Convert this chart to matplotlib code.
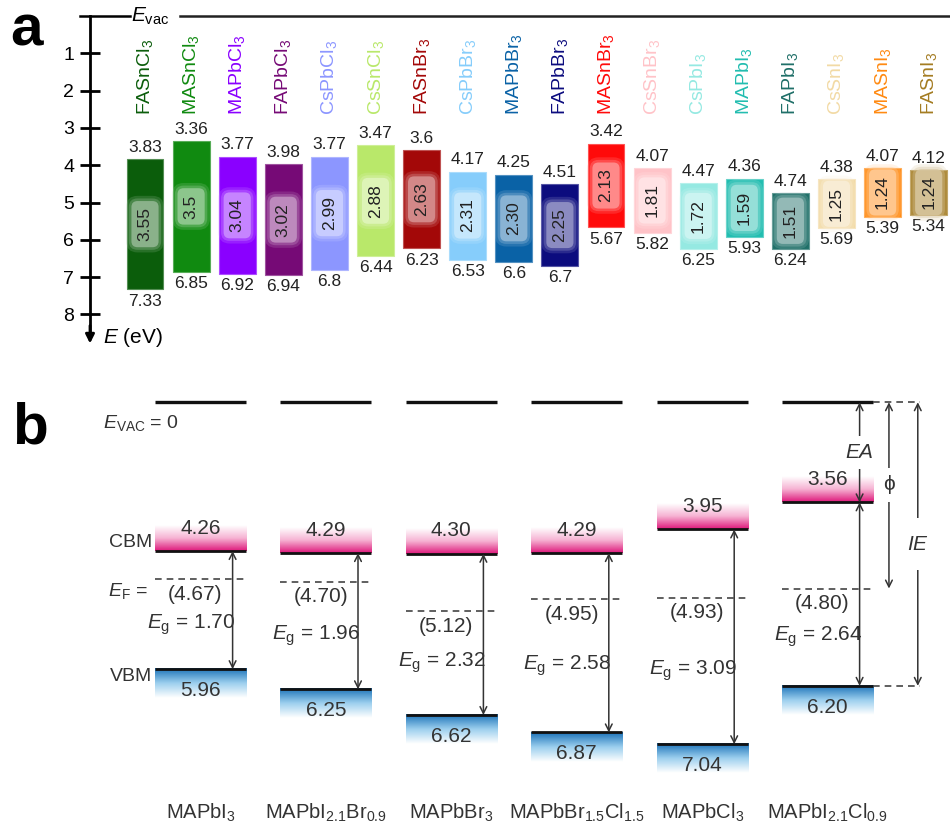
import numpy as np
import matplotlib.pyplot as plt
from matplotlib.colors import LinearSegmentedColormap, to_rgb

plt.rcParams['font.family'] = ['Liberation Sans', 'DejaVu Sans']
plt.rcParams['mathtext.fontset'] = 'custom'
plt.rcParams['mathtext.rm'] = 'Liberation Sans'
plt.rcParams['mathtext.it'] = 'Liberation Sans:italic'
plt.rcParams['mathtext.bf'] = 'Liberation Sans:bold'

# ---- panel a data ----
names_a = ['FASnCl$_3$', 'MASnCl$_3$', 'MAPbCl$_3$', 'FAPbCl$_3$', 'CsPbCl$_3$',
           'CsSnCl$_3$', 'FASnBr$_3$', 'CsPbBr$_3$', 'MAPbBr$_3$', 'FAPbBr$_3$',
           'MASnBr$_3$', 'CsSnBr$_3$', 'CsPbI$_3$', 'MAPbI$_3$', 'FAPbI$_3$',
           'CsSnI$_3$', 'MASnI$_3$', 'FASnI$_3$']
cbm_a = [3.83, 3.36, 3.77, 3.98, 3.77, 3.47, 3.6, 4.17, 4.25, 4.51, 3.42, 4.07,
         4.47, 4.36, 4.74, 4.38, 4.07, 4.12]
vbm_a = [7.33, 6.85, 6.92, 6.94, 6.8, 6.44, 6.23, 6.53, 6.6, 6.7, 5.67, 5.82,
         6.25, 5.93, 6.24, 5.69, 5.39, 5.34]
gap_a = ['3.55', '3.5', '3.04', '3.02', '2.99', '2.88', '2.63', '2.31', '2.30',
         '2.25', '2.13', '1.81', '1.72', '1.59', '1.51', '1.25', '1.24', '1.24']
colors_a = ['#0b5d0b', '#108a10', '#8a00ff', '#760a76', '#8c96ff', '#b9e86a',
            '#a30808', '#86cdfb', '#0a62a6', '#0c0c7e', '#ff0a0a', '#ffc3c8',
            '#95e9e2', '#22bdb0', '#1f6f68', '#f2daa5', '#ff8a12', '#a47c22']
yticks_a = [1, 2, 3, 4, 5, 6, 7, 8]

# ---- panel b data ----
names_b = ['MAPbI$_3$', 'MAPbI$_{2.1}$Br$_{0.9}$', 'MAPbBr$_3$',
           'MAPbBr$_{1.5}$Cl$_{1.5}$', 'MAPbCl$_3$', 'MAPbI$_{2.1}$Cl$_{0.9}$']
cbm_b = [4.26, 4.29, 4.30, 4.29, 3.95, 3.56]
vbm_b = [5.96, 6.25, 6.62, 6.87, 7.04, 6.20]
ef_b = [4.67, 4.70, 5.12, 4.95, 4.93, 4.80]
eg_b = [1.70, 1.96, 2.32, 2.58, 3.09, 2.64]


def blend(c, f):
    r = np.array(to_rgb(c))
    return tuple(r + (1 - r) * f)


fig = plt.figure(figsize=(9.5, 8.32), dpi=100)

# =============== panel a ===============
ax_a = fig.add_axes([0, 1 - 360 / 832, 1, 360 / 832])
ax_a.set_xlim(-145 / 46.1, 805 / 46.1)
ax_a.set_ylim(344 / 37.3, -16 / 37.3)
ax_a.patch.set_visible(False)
for s in ['top', 'right', 'bottom']:
    ax_a.spines[s].set_visible(False)
axis_x = -55 / 46.1
ax_a.spines['left'].set_position(('data', axis_x))
ax_a.spines['left'].set_bounds(0, 8.5)
ax_a.spines['left'].set_linewidth(2)
ax_a.set_xticks([])
ax_a.set_yticks(yticks_a)
ax_a.tick_params(axis='y', direction='inout', length=15, width=2,
                 labelsize=14, pad=4)
ax_a.annotate('', xy=(axis_x, 8.78), xytext=(axis_x, 8.3),
              arrowprops=dict(arrowstyle='-|>', lw=2, color='k',
                              mutation_scale=13, shrinkA=0, shrinkB=0))
ax_a.text(-0.91, 8.62, r'$E$ (eV)', fontsize=15, ha='left', va='center')

# vacuum level line
ax_a.plot([axis_x - 0.22, -0.33], [0, 0], color='k', lw=1.8)
ax_a.plot([0.76, 17.6], [0, 0], color='#222', lw=1.8)
ax_a.text(-0.30, 0, r'$E_{\mathrm{vac}}$', fontsize=15, ha='left', va='center')

x_a = np.arange(len(names_a))
cbm = np.array(cbm_a)
vbm = np.array(vbm_a)
ax_a.bar(x_a, vbm - cbm, bottom=cbm, width=0.8, color=colors_a,
         edgecolor=[blend(c, 0.3) for c in colors_a], linewidth=0.8)

for i in x_a:
    ax_a.text(i, 2.65, names_a[i], rotation=90, ha='center', va='bottom',
              fontsize=14, color=colors_a[i])
    ax_a.annotate(f'{cbm_a[i]:g}', (i, cbm_a[i]), xytext=(0, 3),
                  textcoords='offset points', ha='center', va='bottom',
                  fontsize=12.5, color='#222')
    ax_a.annotate(f'{vbm_a[i]:g}', (i, vbm_a[i]), xytext=(0, -3),
                  textcoords='offset points', ha='center', va='top',
                  fontsize=12.5, color='#222')
    mid = (cbm_a[i] + vbm_a[i]) / 2
    fc = blend(colors_a[i], 0.55)
    for pad, al, tc in [(0.65, 0.22, 'none'), (0.5, 0.35, 'none'), (0.35, 0.9, '#222')]:
        ax_a.text(i, mid, gap_a[i], rotation=90, ha='center', va='center',
                  fontsize=12.5, color=tc,
                  bbox=dict(boxstyle=f'round,pad={pad}', fc=fc, ec='none', alpha=al))

fig.text(10 / 950, 1 - 45 / 832, 'a', fontsize=42, fontweight='bold')

# =============== panel b ===============
ax_b = fig.add_axes([0, 0, 1, 452 / 832])
ax_b.axis('off')
xl = (-200.5 / 125.4, 749.5 / 125.4)
yl = (4.26 + 281 / 69.5, 4.26 - 171 / 69.5)
hw = 0.363
vac_y = 2.12
arr_dx = 0.256
tc = '#333333'

pink = LinearSegmentedColormap.from_list('pk', ['#ffffff', '#f6b3d3', '#de1a7c'])
blue = LinearSegmentedColormap.from_list('bl', ['#ffffff', '#9ccfee', '#1b72b8'])
grad = np.linspace(1, 0, 60)[:, None]
arrow_kw = dict(arrowstyle='<->', lw=1.1, color='#333', mutation_scale=12,
                shrinkA=0, shrinkB=0)

for i in range(len(names_b)):
    c, v, f = cbm_b[i], vbm_b[i], ef_b[i]
    ax_b.imshow(grad, extent=(i - hw, i + hw, c, c - 0.36), origin='lower',
                cmap=pink, aspect='auto', vmin=0, vmax=1)
    ax_b.imshow(grad, extent=(i - hw, i + hw, v, v + 0.42), origin='lower',
                cmap=blue, aspect='auto', vmin=0, vmax=1)
    ax_b.hlines(vac_y, i - hw, i + hw, color='#111', lw=2.4)
    ax_b.hlines([c, v], i - hw, i + hw, color='#111', lw=2)
    ax_b.hlines(f, i - hw, i + hw, color='#444', lw=1.2, linestyles=(0, (4, 3)))
    ax_b.text(i, c - 0.33, f'{c:.2f}', ha='center', va='center', fontsize=15, color=tc)
    ax_b.text(i, v + 0.31, f'{v:.2f}', ha='center', va='center', fontsize=15, color=tc)
    ax_b.text(i - 0.04, f + 0.22, f'({f:.2f})', ha='center', va='center',
              fontsize=15, color=tc)
    ax_b.annotate('', xy=(i + arr_dx, v), xytext=(i + arr_dx, c), arrowprops=arrow_kw)
    ax_b.text(i + arr_dx + 0.02, (f + v) / 2, r'$E_{\mathrm{g}}$' + f' = {eg_b[i]:.2f}',
              ha='right', va='center', fontsize=15, color=tc)
    ax_b.text(i, 8.03, names_b[i], ha='center', va='center', fontsize=14.5, color=tc)

# left labels
ax_b.text(-0.778, vac_y + 0.3, r'$E_{\mathrm{VAC}}$ = 0', ha='left', va='center',
          fontsize=14, color=tc)
ax_b.text(-0.387, cbm_b[0] - 0.12, 'CBM', ha='right', va='center', fontsize=14, color=tc)
ax_b.text(-0.42, ef_b[0] + 0.17, r'$E_{\mathrm{F}}$ =', ha='right', va='center',
          fontsize=14, color=tc)
ax_b.text(-0.387, vbm_b[0] + 0.1, 'VBM', ha='right', va='center', fontsize=14, color=tc)

# EA, phi, IE on last column
k = len(names_b) - 1
ax_b.annotate('', xy=(k + arr_dx, cbm_b[k]), xytext=(k + arr_dx, vac_y), arrowprops=arrow_kw)
ax_b.annotate('', xy=(k + 0.49, ef_b[k]), xytext=(k + 0.49, vac_y), arrowprops=arrow_kw)
ax_b.annotate('', xy=(k + 0.72, vbm_b[k]), xytext=(k + 0.72, vac_y), arrowprops=arrow_kw)
ax_b.hlines([vac_y, vbm_b[k]], k + hw, k + 0.74, color='#444', lw=1.2,
            linestyles=(0, (4, 3)))
wb = dict(boxstyle='square,pad=0.35', fc='white', ec='none')
ax_b.text(k + arr_dx, (vac_y + cbm_b[k]) / 2, r'$EA$', ha='center', va='center',
          fontsize=15, color=tc, bbox=wb)
ax_b.text(k + 0.49, (vac_y + ef_b[k]) / 2 - 0.15, 'ϕ', ha='center', va='center',
          fontsize=15, color=tc, bbox=wb)
ax_b.text(k + 0.72, (vac_y + vbm_b[k]) / 2, r'$IE$', ha='center', va='center',
          fontsize=15, color=tc, bbox=dict(boxstyle='square,pad=0.8', fc='white', ec='none'))

ax_b.set_xlim(*xl)
ax_b.set_ylim(*yl)

fig.text(12 / 950, 1 - 443 / 832, 'b', fontsize=42, fontweight='bold')

fig.savefig('out.png', dpi=100)
